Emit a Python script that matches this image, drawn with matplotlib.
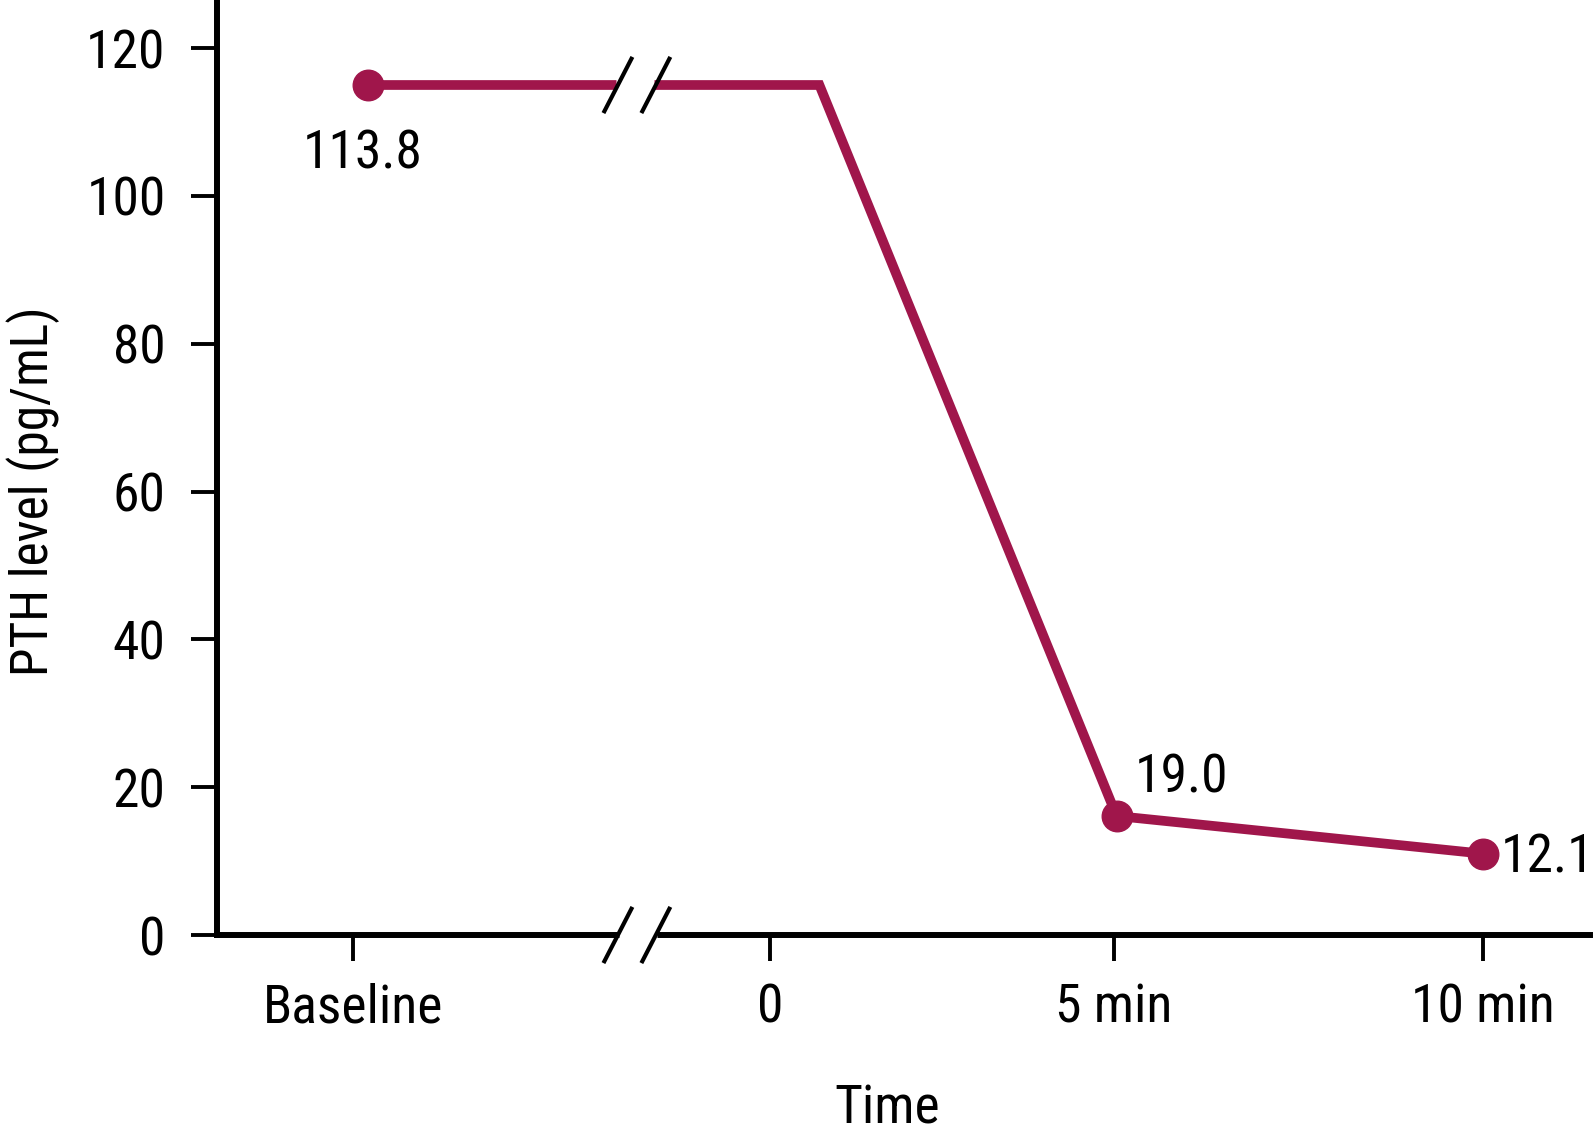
import matplotlib
matplotlib.use("Agg")
import matplotlib.pyplot as plt

# ---- data ----
time_labels = ['Baseline', '0', '5 min', '10 min']
tick_pos = [-5.85, 0, 4.82, 10]
point_x = [-5.64, 0.69, 4.86, 10]
pth_values = [115.0, 115.0, 16.1, 11.0]
marker_idx = [0, 2, 3]
value_labels = ['113.8', '19.0', '12.1']
y_ticks = [0, 20, 40, 60, 80, 100, 120]

plt.rcParams['font.family'] = ['Roboto Condensed', 'DejaVu Sans']
plt.rcParams['font.weight'] = 'normal'

color = '#A0164B'
FS = 38.5

W, H = 1593, 1141
fig = plt.figure(figsize=(W / 100, H / 100), dpi=100)
ax = fig.add_axes([217 / W, (H - 935) / H, (1590 - 217) / W, 935 / H])
ax.set_xlim(-7.76, 11.5)
ax.set_ylim(0, 126.5)

for s in ['top', 'right']:
    ax.spines[s].set_visible(False)
for s in ['left', 'bottom']:
    ax.spines[s].set_linewidth(4.3)
    ax.spines[s].set_capstyle('projecting')

ax.plot(point_x, pth_values, color=color, lw=7.0, solid_joinstyle='miter', zorder=3, clip_on=False)
ax.plot([point_x[i] for i in marker_idx], [pth_values[i] for i in marker_idx],
        'o', color=color, ms=22, zorder=4, clip_on=False)

ax.set_xticks(tick_pos)
ax.set_xticklabels(time_labels)
ax.set_yticks(y_ticks)
ax.tick_params(axis='both', labelsize=FS, length=19, width=2.8, color='black')
ax.tick_params(axis='y', pad=18)
ax.tick_params(axis='x', pad=15)

# value labels
offsets = [(-4.3, -59.8, 'center'), (13.2, 17.1, 'left'), (12.5, -13.4, 'left')]
for lab, i, (dx, dy, ha) in zip(value_labels, marker_idx, offsets):
    ax.annotate(lab, (point_x[i], pth_values[i]), xytext=(dx, dy), textcoords='offset points',
                ha=ha, va='baseline', fontsize=FS, zorder=5, annotation_clip=False)

# axis break marks
xb = -1.87       # break centre on the time axis
sep = 0.266      # half distance between slashes
hx, hy = 0.203, 3.8
ygap_line = pth_values[0]
ax.plot([xb - sep - 0.02, xb + sep - 0.02], [ygap_line, ygap_line], color='white', lw=9, zorder=3.5,
        solid_capstyle='butt', clip_on=False)
ax.plot([xb - sep + 0.02, xb + sep + 0.02], [0, 0], color='white', lw=6.5, zorder=3.5,
        solid_capstyle='butt', clip_on=False)
for yc in [ygap_line, 0]:
    for sx in [-sep, sep]:
        ax.plot([xb + sx - hx, xb + sx + hx], [yc - hy, yc + hy], color='black', lw=3.0,
                zorder=6, clip_on=False, solid_capstyle='butt')

fig.text(887 / W, 1 - 1123 / H, 'Time', fontsize=FS, ha='center', va='baseline')
fig.text(48 / W, 1 - 491 / H, 'PTH level (pg/mL)', fontsize=37, ha='center', va='baseline',
         rotation=90, rotation_mode='anchor')

fig.savefig('out.png', dpi=100)
